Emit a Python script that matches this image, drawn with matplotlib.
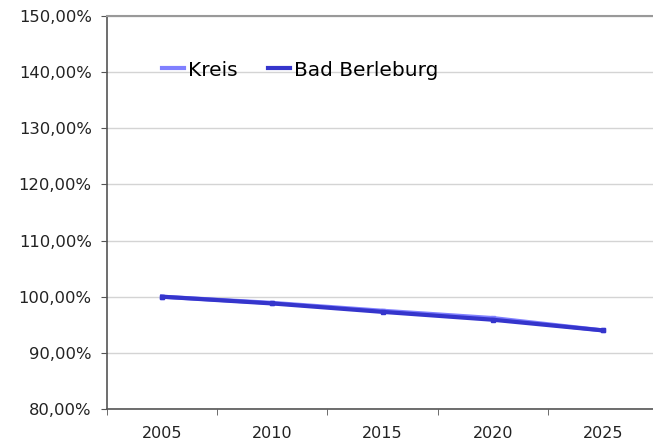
import matplotlib.pyplot as plt
from matplotlib.ticker import FuncFormatter

# data
years = ['2005', '2010', '2015', '2020', '2025']
kreis = [100.0, 98.9, 97.5, 96.2, 94.0]
bad_berleburg = [100.0, 98.8, 97.3, 95.9, 94.0]
y_ticks = [80, 90, 100, 110, 120, 130, 140, 150]

plt.rcParams['font.family'] = 'DejaVu Sans'

fig = plt.figure(figsize=(6.53, 4.47), dpi=100)
# plot area runs a bit past the right edge of the picture, as in the original
ax = fig.add_axes([107 / 653, 38 / 447, 551 / 653, 393 / 447])

x = range(len(years))
ax.plot(x, kreis, color='#8080ff', linewidth=3, marker='s', markersize=3, label='Kreis')
ax.plot(x, bad_berleburg, color='#3535cc', linewidth=3, marker='s', markersize=3,
        label='Bad Berleburg')

ax.set_xlim(-0.5, len(years) - 0.5)
ax.set_ylim(80, 150)
ax.set_yticks(y_ticks)
ax.yaxis.set_major_formatter(FuncFormatter(lambda v, p: f'{v:.2f}'.replace('.', ',') + '%'))
ax.yaxis.grid(True, color='#d4d4d4', linewidth=1)
ax.set_axisbelow(True)

ax.set_xticks(list(x))
ax.set_xticklabels(years)
ax.set_xticks([i - 0.5 for i in range(len(years) + 1)], minor=True)
ax.tick_params(axis='x', which='major', length=0, pad=12, labelsize=11.5, colors='#222222')
ax.tick_params(axis='x', which='minor', length=4, color='#555555', direction='out')
ax.tick_params(axis='y', length=4, labelsize=11.8, pad=7, colors='#555555',
               labelcolor='#222222')

for s in ['left', 'bottom']:
    ax.spines[s].set_color('#555555')
    ax.spines[s].set_linewidth(1.2)
ax.spines['top'].set_color('#999999')
ax.spines['top'].set_linewidth(1.5)
ax.spines['right'].set_visible(False)

ax.legend(loc='center left', bbox_to_anchor=(144 / 653, 1 - 70 / 447),
          bbox_transform=fig.transFigure, ncol=2, frameon=False, fontsize=14.5,
          handlelength=1.1, handletextpad=0.2, columnspacing=1.5, markerscale=0)

fig.savefig('out.png', dpi=100)
